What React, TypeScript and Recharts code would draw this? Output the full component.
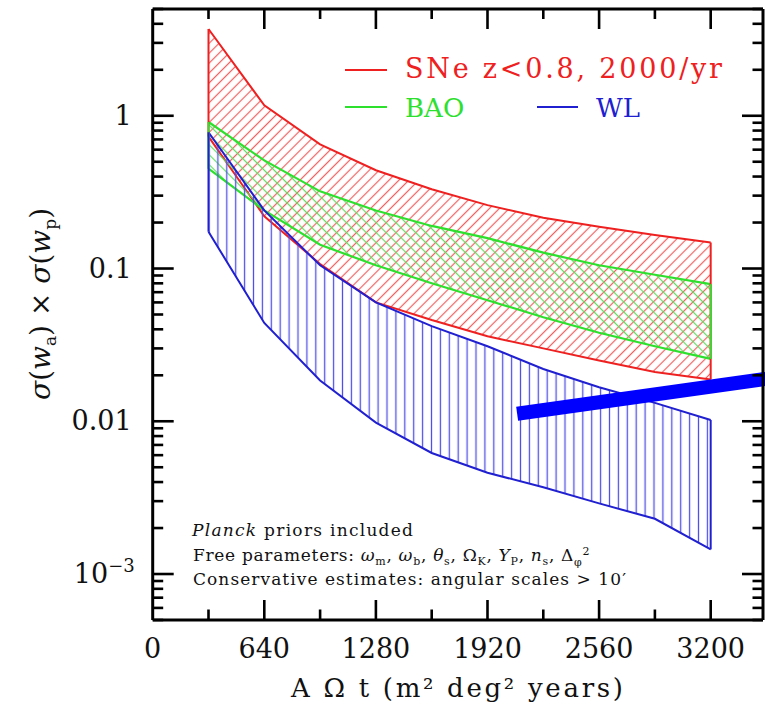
import React from 'react';
import { ComposedChart, Area, XAxis, YAxis, ReferenceLine } from 'recharts';

// exposure A*Omega*t (m^2 deg^2 years)
const exposure = [320, 640, 960, 1280, 1600, 1920, 2240, 2560, 2880, 3200];
// sigma(wa) x sigma(wp) bands
const sneUpper = [3.7, 1.17, 0.65, 0.44, 0.33, 0.26, 0.215, 0.188, 0.166, 0.148];
const sneLower = [0.73, 0.22, 0.107, 0.06, 0.046, 0.036, 0.03, 0.025, 0.021, 0.0188];
const baoUpper = [0.91, 0.51, 0.32, 0.24, 0.19, 0.158, 0.127, 0.105, 0.091, 0.079];
const baoLower = [0.45, 0.24, 0.143, 0.105, 0.08, 0.062, 0.048, 0.038, 0.031, 0.0256];
const wlUpper = [0.78, 0.24, 0.105, 0.06, 0.042, 0.031, 0.022, 0.0167, 0.0132, 0.0102];
const wlLower = [0.174, 0.044, 0.0185, 0.0098, 0.0062, 0.0046, 0.0037, 0.0029, 0.0023, 0.00145];

// thick annotation bar
const barStart = { x: 2090, y: 0.0112 };
const barEnd = { x: 3540, y: 0.0191 };

const xMajorTicks = [0, 640, 1280, 1920, 2560, 3200];
const xMinorTicks = [320, 960, 1600, 2240, 2880];
const yMajorTicks = [0.001, 0.01, 0.1, 1];
const yMajorLabels = ['10^-3', '0.01', '0.1', '1'];
const xDomain = [0, 3500];
const yDomain = [0.0005, 5];

const xTicksAll = [...xMajorTicks, ...xMinorTicks].sort((a, b) => a - b);
const yTicksAll: number[] = [];
[0.0001, 0.001, 0.01, 0.1, 1].forEach((d) => {
  for (let m = 1; m <= 9; m++) {
    const v = parseFloat((m * d).toPrecision(6));
    if (v >= yDomain[0] * 0.999 && v <= yDomain[1] * 1.001) yTicksAll.push(v);
  }
});

const rows = exposure.map((x, i) => ({
  x,
  sne: [sneLower[i], sneUpper[i]],
  bao: [baoLower[i], baoUpper[i]],
  wl: [wlLower[i], wlUpper[i]],
}));

const RED = '#ee2020';
const GREEN = '#2ee02e';
const BLUE = '#2020d0';
const FONT = '"DejaVu Serif", serif';

const isMajorY = (v: number) => yMajorTicks.some((m) => Math.abs(m - v) / m < 1e-6);
const yLabelFor = (v: number) => {
  const idx = yMajorTicks.findIndex((m) => Math.abs(m - v) / m < 1e-6);
  return idx >= 0 ? yMajorLabels[idx] : '';
};

const BottomTick = (props: any) => {
  const { x, y, payload } = props;
  const v = payload.value;
  const major = xMajorTicks.includes(v);
  return (
    <g>
      {v > 0 && <line x1={x} x2={x} y1={y} y2={y - (major ? 20 : 10.5)} stroke="#000" strokeWidth={2.6} />}
      {major && (
        <text x={x} y={y + 38} textAnchor="middle" fontFamily={FONT} fontSize={27} fill="#111">
          {v}
        </text>
      )}
    </g>
  );
};

const TopTick = (props: any) => {
  const { x, y, payload } = props;
  const v = payload.value;
  const major = xMajorTicks.includes(v);
  if (v <= 0) return <g />;
  return <line x1={x} x2={x} y1={y} y2={y + (major ? 20 : 10)} stroke="#000" strokeWidth={2.6} />;
};

const LeftTick = (props: any) => {
  const { x, y, payload } = props;
  const v = payload.value;
  const major = isMajorY(v);
  const label = yLabelFor(v);
  return (
    <g>
      <line x1={x} x2={x + (major ? 21 : 10.5)} y1={y} y2={y} stroke="#000" strokeWidth={2.6} />
      {major && label === '10^-3' && (
        <text x={x - 18} y={y + 9} textAnchor="end" fontFamily={FONT} fontSize={27} fill="#111">
          10<tspan dy={-11} fontSize={18}>−3</tspan>
        </text>
      )}
      {major && label !== '10^-3' && (
        <text x={x - 21} y={y + 9} textAnchor="end" fontFamily={FONT} fontSize={27} fill="#111">
          {label}
        </text>
      )}
    </g>
  );
};

const RightTick = (props: any) => {
  const { x, y, payload } = props;
  const v = payload.value;
  const major = isMajorY(v);
  return <line x1={x} x2={x - (major ? 21 : 10.5)} y1={y} y2={y} stroke="#000" strokeWidth={2.6} />;
};

export default function App() {
  const axisLine = { stroke: '#000', strokeWidth: 3 };
  return (
    <div style={{ position: 'absolute', left: 0, top: 0, width: 765, height: 709, background: '#fff' }}>
      <svg width={0} height={0} style={{ position: 'absolute' }}>
        <defs>
          <pattern id="hatchRed" patternUnits="userSpaceOnUse" width={7} height={7} patternTransform="rotate(45)">
            <line x1={3.5} y1={-1} x2={3.5} y2={8} stroke="#f06060" strokeWidth={1.2} />
          </pattern>
          <pattern id="hatchGreen" patternUnits="userSpaceOnUse" width={7} height={7} patternTransform="rotate(-45)">
            <line x1={3.5} y1={-1} x2={3.5} y2={8} stroke="#60dd60" strokeWidth={1.2} />
          </pattern>
          <pattern id="hatchBlue" patternUnits="userSpaceOnUse" x={204.55} y={0} width={8.9} height={10}>
            <line x1={4.45} y1={-1} x2={4.45} y2={11} stroke="#5050e8" strokeWidth={1.3} />
          </pattern>
        </defs>
      </svg>
      <ComposedChart
        width={765}
        height={709}
        data={rows}
        margin={{ top: 8, right: 1, bottom: 49, left: 112.7 }}
      >
        <XAxis
          xAxisId={0}
          type="number"
          dataKey="x"
          domain={xDomain}
          ticks={xTicksAll}
          interval={0}
          height={40}
          tickSize={0}
          tickMargin={0}
          tickLine={false}
          axisLine={axisLine}
          tick={<BottomTick />}
          allowDataOverflow
        />
        <XAxis
          xAxisId="top"
          orientation="top"
          type="number"
          dataKey="x"
          domain={xDomain}
          ticks={xTicksAll}
          interval={0}
          height={1}
          tickSize={0}
          tickMargin={0}
          tickLine={false}
          axisLine={axisLine}
          tick={<TopTick />}
          allowDataOverflow
        />
        <YAxis
          yAxisId={0}
          type="number"
          scale="log"
          domain={yDomain}
          ticks={yTicksAll}
          interval={0}
          width={40}
          tickSize={0}
          tickMargin={0}
          tickLine={false}
          axisLine={axisLine}
          tick={<LeftTick />}
          allowDataOverflow
        />
        <YAxis
          yAxisId="right"
          orientation="right"
          type="number"
          scale="log"
          domain={yDomain}
          ticks={yTicksAll}
          interval={0}
          width={1}
          tickSize={0}
          tickMargin={0}
          tickLine={false}
          axisLine={axisLine}
          tick={<RightTick />}
          allowDataOverflow
        />
        <Area
          type="linear"
          dataKey="sne"
          stroke={RED}
          strokeWidth={2}
          fill="url(#hatchRed)"
          fillOpacity={1}
          isAnimationActive={false}
          dot={false}
          activeDot={false}
        />
        <Area
          type="linear"
          dataKey="bao"
          stroke={GREEN}
          strokeWidth={2.2}
          fill="url(#hatchGreen)"
          fillOpacity={1}
          isAnimationActive={false}
          dot={false}
          activeDot={false}
        />
        <Area
          type="linear"
          dataKey="wl"
          stroke={BLUE}
          strokeWidth={2}
          fill="url(#hatchBlue)"
          fillOpacity={1}
          isAnimationActive={false}
          dot={false}
          activeDot={false}
        />
        {[
          { lo: sneLower, hi: sneUpper, c: RED },
          { lo: baoLower, hi: baoUpper, c: GREEN },
          { lo: wlLower, hi: wlUpper, c: BLUE },
        ].flatMap((b, k) => [0, exposure.length - 1].map((i) => (
          <ReferenceLine
            key={`end-${k}-${i}`}
            segment={[{ x: exposure[i], y: b.lo[i] }, { x: exposure[i], y: b.hi[i] }]}
            stroke={b.c}
            strokeWidth={2}
            ifOverflow="visible"
          />
        )))}
        <ReferenceLine
          segment={[barStart, barEnd]}
          stroke="#0000ff"
          strokeWidth={14}
          ifOverflow="visible"
        />
      </ComposedChart>
      <svg
        width={765}
        height={709}
        style={{ position: 'absolute', left: 0, top: 0, pointerEvents: 'none' }}
        fontFamily={FONT}
      >
        {/* legend */}
        <line x1={345} x2={387} y1={70} y2={70} stroke={RED} strokeWidth={2} />
        <text x={405} y={78} fontSize={27} fill={RED} textLength={317} lengthAdjust="spacing">
          SNe z&lt;0.8, 2000/yr
        </text>
        <line x1={345} x2={387} y1={107} y2={107} stroke={GREEN} strokeWidth={2} />
        <text x={405} y={117} fontSize={26} fill={GREEN}>
          BAO
        </text>
        <line x1={537} x2={578} y1={107} y2={107} stroke={BLUE} strokeWidth={2} />
        <text x={596} y={117} fontSize={26} fill={BLUE}>
          WL
        </text>

        {/* annotations */}
        <text x={192} y={536} fontSize={17} fill="#111" textLength={221} lengthAdjust="spacing">
          <tspan fontStyle="italic">Planck</tspan> priors included
        </text>
        <text x={193} y={561} fontSize={17} fill="#111" letterSpacing={0.7}>
          Free parameters: <tspan fontStyle="italic">ω</tspan>
          <tspan dy={4} fontSize={11}>m</tspan>
          <tspan dy={-4}>, </tspan>
          <tspan fontStyle="italic">ω</tspan>
          <tspan dy={4} fontSize={11}>b</tspan>
          <tspan dy={-4}>, </tspan>
          <tspan fontStyle="italic">θ</tspan>
          <tspan dy={4} fontSize={11}>s</tspan>
          <tspan dy={-4}>, Ω</tspan>
          <tspan dy={4} fontSize={11}>K</tspan>
          <tspan dy={-4}>, </tspan>
          <tspan fontStyle="italic">Y</tspan>
          <tspan dy={4} fontSize={11}>P</tspan>
          <tspan dy={-4}>, </tspan>
          <tspan fontStyle="italic">n</tspan>
          <tspan dy={4} fontSize={11}>s</tspan>
          <tspan dy={-4}>, Δ</tspan>
          <tspan dy={5} fontSize={11}>φ</tspan>
          <tspan dy={-11} fontSize={11}>2</tspan>
        </text>
        <text x={193} y={585} fontSize={17} fill="#111" textLength={433} lengthAdjust="spacing">
          Conservative estimates: angular scales &gt; 10′
        </text>

        {/* axis titles */}
        <text x={457} y={697} fontSize={26} fill="#111" textAnchor="middle" textLength={332} lengthAdjust="spacing">
          A Ω t (m² deg² years)
        </text>
        <text transform="translate(50,304) rotate(-90)" fontSize={28} fill="#111" textAnchor="middle">
          <tspan fontStyle="italic">σ</tspan>(<tspan fontStyle="italic">w</tspan>
          <tspan dy={6} fontSize={17}>a</tspan>
          <tspan dy={-6}>) × </tspan>
          <tspan fontStyle="italic">σ</tspan>(<tspan fontStyle="italic">w</tspan>
          <tspan dy={6} fontSize={17}>p</tspan>
          <tspan dy={-6}>)</tspan>
        </text>
      </svg>
    </div>
  );
}
